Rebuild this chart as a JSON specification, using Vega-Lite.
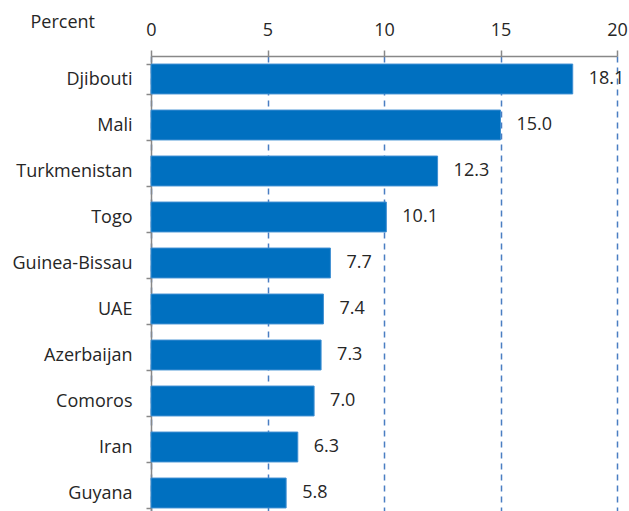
{
  "$schema": "https://vega.github.io/schema/vega-lite/v6.json",
  "width": 466,
  "height": 460,
  "autosize": {"type": "none"},
  "padding": {"left": 151, "top": 56, "right": 12, "bottom": 0},
  "background": "white",
  "config": {"view": {"stroke": null}, "font": "Open Sans"},
  "data": {"values": [
    {"country": "Djibouti", "value": 18.1},
    {"country": "Mali", "value": 15.0},
    {"country": "Turkmenistan", "value": 12.3},
    {"country": "Togo", "value": 10.1},
    {"country": "Guinea-Bissau", "value": 7.7},
    {"country": "UAE", "value": 7.4},
    {"country": "Azerbaijan", "value": 7.3},
    {"country": "Comoros", "value": 7.0},
    {"country": "Iran", "value": 6.3},
    {"country": "Guyana", "value": 5.8}
  ]},
  "encoding": {
    "y": {"field": "country", "type": "nominal", "sort": null,
      "scale": {"paddingInner": 0.35, "paddingOuter": 0.175},
      "axis": {"title": "Percent", "titleAngle": 0, "titleAlign": "left", "titleBaseline": "alphabetic",
        "titleX": -121, "titleY": -29, "titleFont": "Open Sans", "titleFontSize": 18, "titleFontWeight": "normal", "titleColor": "#262626",
        "labelFont": "Open Sans", "labelFontSize": 18, "labelColor": "#262626", "labelPadding": 14,
        "domainColor": "#888888", "domainWidth": 1.5, "tickColor": "#888888", "tickWidth": 1.5, "tickSize": 5, "tickBand": "extent", "grid": false}},
    "x": {"field": "value", "type": "quantitative",
      "scale": {"domain": [0, 20], "nice": false},
      "axis": {"orient": "top", "title": null, "values": [0, 5, 10, 15, 20], "labelFont": "Open Sans", "labelFontSize": 18, "labelColor": "#262626",
        "labelPadding": 11, "domainColor": "#888888", "domainWidth": 1.5, "tickColor": "#888888", "tickWidth": 1.5, "tickSize": 6,
        "grid": true, "gridColor": "#4A7EC2", "gridDash": [6, 5], "gridWidth": 1.5, "labelFlush": false}}
  },
  "layer": [
    {"mark": {"type": "bar", "color": "#0070C0", "stroke": "#3F8FD2", "strokeWidth": 1}},
    {"mark": {"type": "text", "align": "left", "dx": 16, "fontSize": 18, "font": "Open Sans", "color": "#262626"},
     "encoding": {"text": {"field": "value", "type": "quantitative", "format": ".1f"}}}
  ]
}
